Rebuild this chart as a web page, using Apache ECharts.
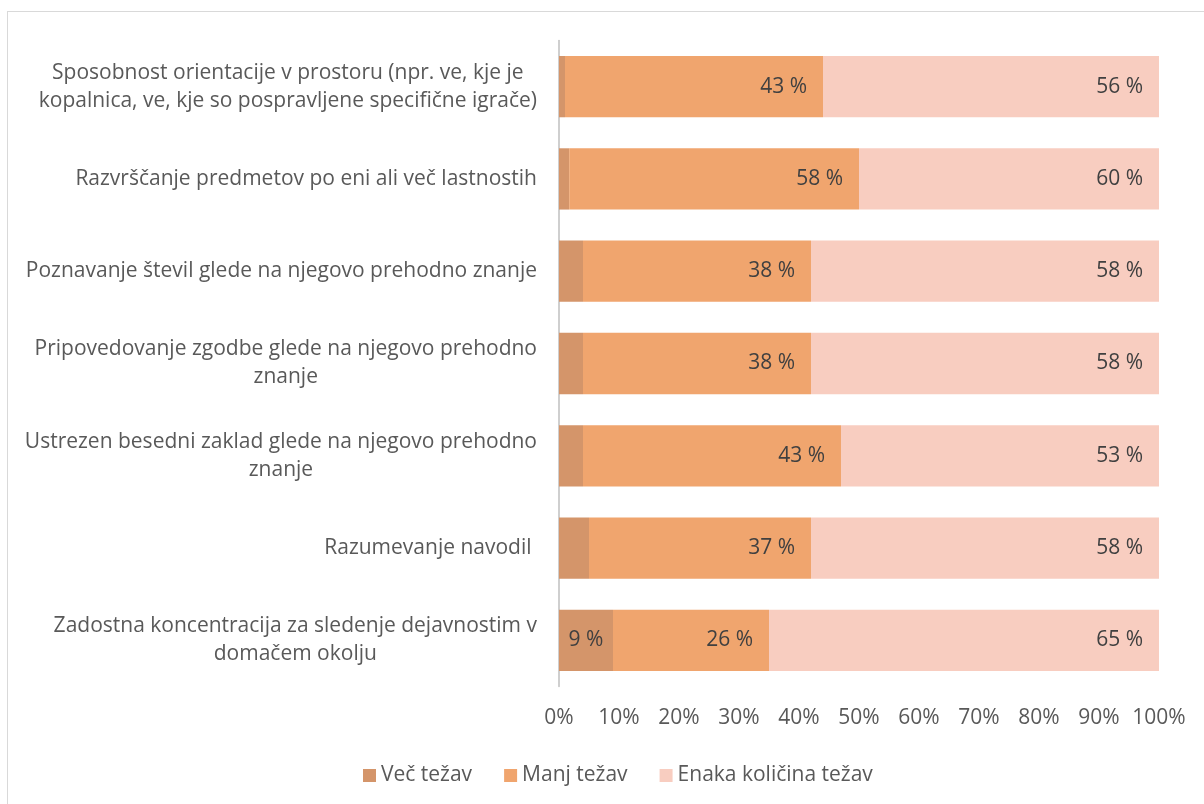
<!DOCTYPE html>
<html>
<head>
<meta charset="utf-8">
<script src="https://cdn.jsdelivr.net/npm/echarts@6/dist/echarts.min.js"></script>
<style>
  html, body { margin: 0; padding: 0; background: #fff; }
  #chart { position: absolute; left: 0; top: 0; width: 1204px; height: 804px; }
  .frame {
    position: absolute; left: 7px; top: 11px; width: 1230px; height: 830px;
    border: 1px solid #d9d9d9; pointer-events: none;
  }
</style>
</head>
<body>
<div id="chart"></div>
<div class="frame"></div>
<script>
// kategorije od zgoraj navzdol
const categories = [
  "Sposobnost orientacije v prostoru (npr. ve, kje je\nkopalnica, ve, kje so pospravljene specifične igrače)",
  "Razvrščanje predmetov po eni ali več lastnostih",
  "Poznavanje števil glede na njegovo prehodno znanje",
  "Pripovedovanje zgodbe glede na njegovo prehodno\nznanje",
  "Ustrezen besedni zaklad glede na njegovo prehodno\nznanje",
  "Razumevanje navodil ",
  "Zadostna koncentracija za sledenje dejavnostim v\ndomačem okolju"
];
const seriesNames = ["Več težav", "Manj težav", "Enaka količina težav"];

// širine segmentov (delež), odčitane s slike
const vecTezav = [1, 1.7, 4, 4, 4, 5, 9];
const manjTezav = [43, 48.3, 38, 38, 43, 37, 26];
const enakaTezav = [56, 50, 58, 58, 53, 58, 65];

// napisi na stolpcih, kot so na sliki (null = brez napisa)
const vecLabels = [null, null, null, null, null, null, 9];
const manjLabels = [43, 58, 38, 38, 43, 37, 26];
const enakaLabels = [56, 60, 58, 58, 53, 58, 65];

const xTicks = [0, 10, 20, 30, 40, 50, 60, 70, 80, 90, 100];

const colors = ["#d4956a", "#f0a56e", "#f8cdc0"];
const fontFamily = "'Open Sans', sans-serif";
const fontSize = 21;
const textColor = "#595959";
const labelColor = "#404040";

const chart = echarts.init(document.getElementById("chart"));

const makeLabel = (labels, position) => ({
  show: true,
  position: position,
  distance: 16,
  color: labelColor,
  fontFamily: fontFamily,
  fontSize: fontSize,
  formatter: (p) => (labels[p.dataIndex] == null ? "" : labels[p.dataIndex] + " %")
});

const makeSeries = (name, data, labels, position) => ({
  name: name,
  type: "bar",
  stack: "total",
  barCategoryGap: "33.6%",
  data: data,
  label: makeLabel(labels, position),
  emphasis: { disabled: true }
});

chart.setOption({
  animation: false,
  color: colors,
  textStyle: { fontFamily: fontFamily },
  grid: {
    left: 559,
    right: 45,
    top: 40.5,
    bottom: 117.5
  },
  legend: {
    left: 358,
    top: 760,
    itemWidth: 13,
    itemHeight: 13,
    itemGap: 32,
    icon: "rect",
    data: seriesNames,
    textStyle: { color: textColor, fontFamily: fontFamily, fontSize: fontSize }
  },
  xAxis: {
    type: "value",
    min: xTicks[0],
    max: xTicks[xTicks.length - 1],
    interval: 10,
    axisLine: { show: false },
    axisTick: { show: false },
    splitLine: { show: false },
    axisLabel: {
      margin: 21,
      color: textColor,
      fontFamily: fontFamily,
      fontSize: fontSize,
      formatter: (v) => v + "%"
    }
  },
  yAxis: {
    type: "category",
    inverse: true,
    data: categories,
    axisTick: { show: false },
    axisLine: { show: true, lineStyle: { color: "#bfbfbf", width: 1.5 } },
    axisLabel: {
      margin: 22,
      align: "right",
      color: textColor,
      fontFamily: fontFamily,
      fontSize: fontSize,
      lineHeight: 28,
      formatter: (v) => v.split("\n").map((line) => "{c|" + line + "}").join("\n"),
      rich: {
        c: {
          align: "center",
          color: textColor,
          fontFamily: fontFamily,
          fontSize: fontSize,
          lineHeight: 28
        }
      }
    }
  },
  series: [
    makeSeries(seriesNames[0], vecTezav, vecLabels, "inside"),
    makeSeries(seriesNames[1], manjTezav, manjLabels, "insideRight"),
    makeSeries(seriesNames[2], enakaTezav, enakaLabels, "insideRight")
  ]
});
</script>
</body>
</html>
